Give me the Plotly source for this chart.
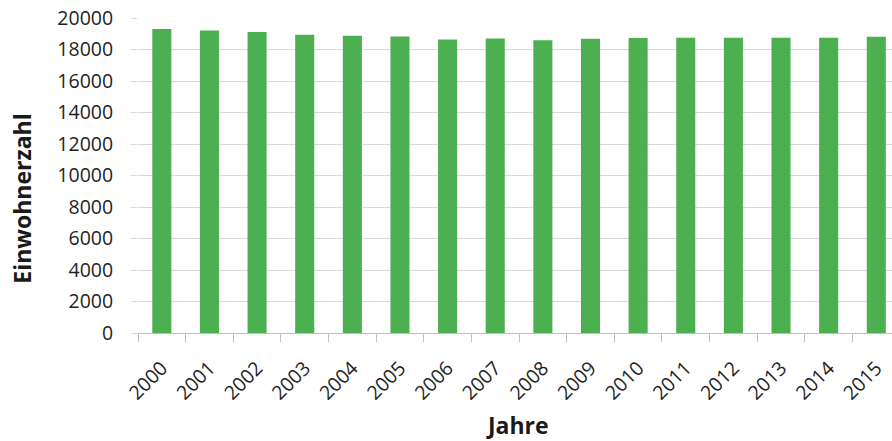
import plotly.graph_objects as go

years = ["2000", "2001", "2002", "2003", "2004", "2005", "2006", "2007",
         "2008", "2009", "2010", "2011", "2012", "2013", "2014", "2015"]
einwohner = [19300, 19210, 19110, 18940, 18880, 18830, 18630, 18700,
             18590, 18690, 18730, 18740, 18740, 18750, 18750, 18810]
y_ticks = [0, 2000, 4000, 6000, 8000, 10000, 12000, 14000, 16000, 18000, 20000]

FONT = "Open Sans"
W, H = 892, 441
ML, MR, MT, MB = 138, 0, 18, 108

fig = go.Figure(go.Bar(x=years, y=einwohner, marker_color="#4CAF50",
                       marker_line_width=0))

fig.update_layout(
    width=W, height=H,
    margin=dict(l=ML, r=MR, t=MT, b=MB),
    paper_bgcolor="white", plot_bgcolor="white",
    bargap=0.6, showlegend=False,
    font=dict(family=FONT, size=19, color="#262626"),
)
fig.update_xaxes(
    type="category", range=[-0.5, 15.33],
    tickangle=-45, tickfont=dict(family=FONT, size=19.5, color="#1f1f1f"),
    ticks="outside", tickson="boundaries", ticklen=8, tickcolor="#BFBFBF",
    showline=True, linecolor="#BFBFBF", linewidth=1,
    showgrid=False, ticklabelstandoff=15,
)
fig.update_yaxes(
    range=[0, 20000], tickvals=y_ticks, ticktext=[str(v) for v in y_ticks],
    tickfont=dict(family=FONT, size=19.5, color="#1f1f1f"),
    ticks="outside", ticklen=6, tickcolor="#D9D9D9",
    showgrid=True, gridcolor="#D9D9D9", gridwidth=1,
    showline=False, zeroline=False, ticklabelstandoff=14,
)

pw = W - ML - MR
fig.add_annotation(text="<b>Einwohnerzahl</b>", textangle=-90,
                   xref="paper", yref="paper", x=0, y=(333.3 - 199) / 315,
                   xshift=22 - ML, xanchor="center", yanchor="middle",
                   showarrow=False, font=dict(family=FONT, size=23, color="#1a1a1a"))
fig.add_annotation(text="<b>Jahre</b>",
                   xref="paper", yref="paper", x=(517.5 - ML) / pw, y=0,
                   yshift=-92, xanchor="center", yanchor="middle",
                   showarrow=False, font=dict(family=FONT, size=23, color="#1a1a1a"))

fig.write_html("out.html")
